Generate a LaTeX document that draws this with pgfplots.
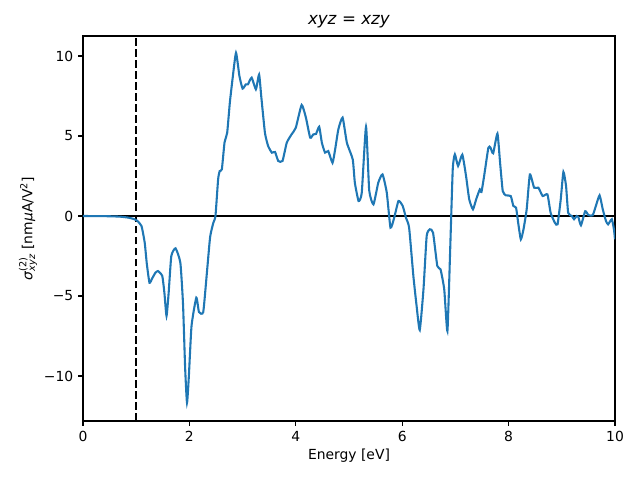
\documentclass[border=0pt]{standalone}
\usepackage{pgfplots}
\pgfplotsset{compat=1.18}
\usepackage{fontspec}
\setmainfont{DejaVu Sans}
\definecolor{c0}{HTML}{1F77B4}
\begin{document}
\begin{tikzpicture}
\begin{axis}[
  scale only axis, width=383.04pt, height=277.2pt,
  xmin=0, xmax=10, ymin=-12.81, ymax=11.25,
  xtick={0,2,4,6,8,10}, ytick={-10,-5,0,5,10},
  yticklabels={−10,−5,0,5,10},
  xtick pos=bottom, ytick pos=left,
  tick align=outside, major tick length=3.5pt,
  tick style={black, line width=0.8pt},
  axis line style={line width=0.8pt},
  /pgf/number format/assume math mode=true,
  ticklabel style={font=\fontsize{10}{12}\selectfont},
  xticklabel style={yshift=-0.5pt},
  xlabel={Energy [eV]},
  ylabel={$\mbox{\itshape σ}^{\mbox{\fontsize{7}{8}\selectfont(2)}}_{\mbox{\fontsize{7}{8}\selectfont\itshape xyz}}$ [nm\textit{μ}A/V\textsuperscript{2}]},
  label style={font=\fontsize{10}{12}\selectfont},
  title={\textit{xyz} = \textit{xzy}},
  title style={font=\fontsize{12}{14}\selectfont, yshift=-4pt},
  xlabel style={yshift=2pt},
  ylabel style={yshift=-2pt},
]
\addplot[black, line width=1.5pt, forget plot] coordinates {(0,0) (10,0)};
\addplot[black, line width=1.5pt, dash pattern=on 5.55pt off 2.4pt, forget plot] coordinates {(1,-12.81) (1,11.25)};
\addplot[c0, line width=1.5pt, smooth, tension=0.3] table {
x y
0 0
0.3 -0.005
0.5 -0.015
0.7 -0.04
0.85 -0.1
0.95 -0.18
1.02 -0.3
1.10 -0.63
1.16 -1.67
1.20 -3.0
1.25 -4.17
1.30 -3.9
1.36 -3.55
1.41 -3.44
1.49 -3.75
1.53 -4.8
1.57 -6.25
1.61 -4.8
1.66 -2.5
1.74 -2.02
1.83 -2.92
1.88 -5.5
1.92 -9.5
1.955 -11.67
1.99 -10
2.04 -6.87
2.13 -5.1
2.18 -6.0
2.26 -6.0
2.33 -3.5
2.39 -1.3
2.45 -0.42
2.49 0
2.54 2.3
2.57 2.81
2.61 2.92
2.66 4.58
2.71 5.2
2.76 7.08
2.81 8.54
2.876 10.2
2.94 8.75
3.0 7.96
3.06 8.23
3.10 8.23
3.17 8.65
3.25 7.92
3.31 8.85
3.35 7.5
3.42 5.2
3.48 4.375
3.55 3.96
3.61 4.0
3.67 3.44
3.75 3.44
3.83 4.58
3.92 5.1
4.0 5.52
4.11 6.94
4.19 6.15
4.27 4.9
4.33 5.1
4.38 5.13
4.44 5.58
4.49 4.58
4.55 3.96
4.61 4.06
4.69 3.33
4.74 4.17
4.80 5.42
4.88 6.15
4.96 4.58
5.07 3.54
5.11 2.08
5.18 0.94
5.24 1.46
5.32 5.58
5.38 1.6
5.46 0.73
5.55 2.08
5.63 2.6
5.71 1.46
5.78 -0.73
5.85 -0.1
5.93 0.94
6.01 0.625
6.07 -0.1
6.13 -0.73
6.21 -3.75
6.27 -5.6
6.33 -7.125
6.40 -4.58
6.46 -1.25
6.52 -0.83
6.58 -1.04
6.66 -3.125
6.72 -3.33
6.79 -4.58
6.85 -7.19
6.90 -2.3
6.95 2.92
6.99 3.85
7.05 3.13
7.13 3.83
7.20 2.5
7.26 1.04
7.33 0.42
7.39 1.04
7.46 1.67
7.49 1.5
7.54 2.5
7.62 4.27
7.66 4.27
7.71 3.92
7.79 5.15
7.84 3.33
7.89 1.56
7.95 1.29
8.04 1.25
8.09 0.625
8.14 0.52
8.18 -0.42
8.23 -1.46
8.28 -0.83
8.34 0.42
8.40 2.6
8.48 1.77
8.56 1.77
8.64 1.25
8.73 1.35
8.79 0.2
8.87 -0.42
8.92 -0.52
8.98 1.04
9.03 2.75
9.08 1.875
9.12 0.2
9.19 0
9.23 -0.2
9.28 0
9.31 -0.05
9.36 -0.58
9.44 0.3
9.50 0.06
9.58 0.04
9.64 0.625
9.71 1.29
9.77 0.42
9.83 -0.31
9.87 -0.52
9.94 -0.2
9.98 -0.83
10.0 -1.46
};
\end{axis}
\pgfresetboundingbox
\path ([xshift=-59.76pt, yshift=-42.48pt]current axis.south west) rectangle ([xshift=18pt, yshift=25.92pt]current axis.north east);
\end{tikzpicture}
\end{document}
